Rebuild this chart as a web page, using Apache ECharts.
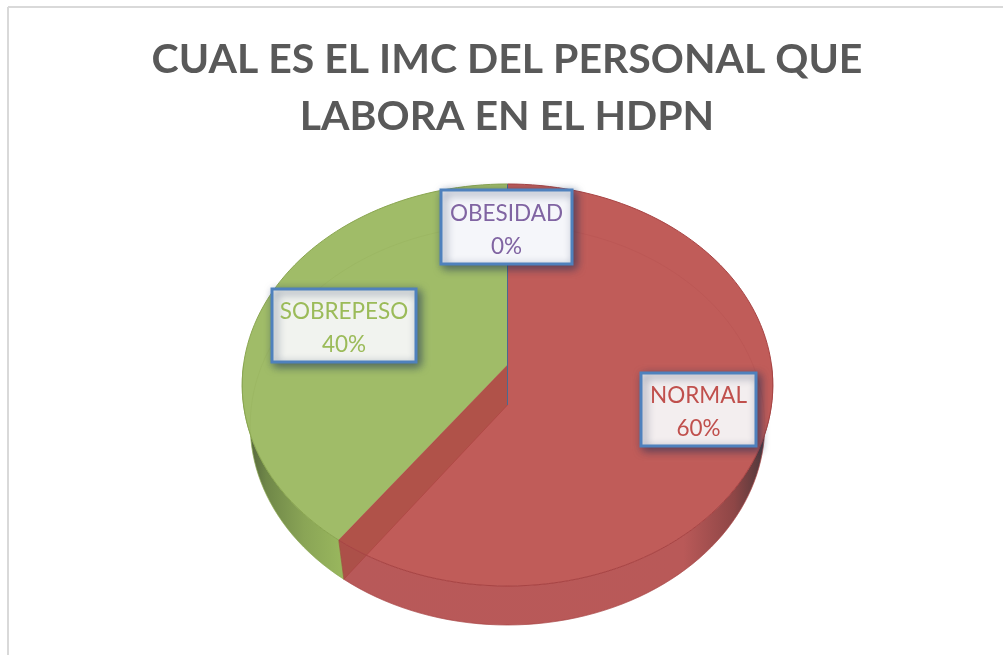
<!DOCTYPE html>
<html>
<head>
<meta charset="utf-8">
<style>html,body{margin:0;padding:0;background:#fff}#c{width:1003px;height:655px}</style>
<script src="https://cdn.jsdelivr.net/npm/echarts@6/dist/echarts.min.js"></script>
</head>
<body>
<div id="c"></div>
<script>
const categories = ['NORMAL', 'SOBREPESO', 'OBESIDAD'];
const values = [60, 40, 0];
const titleText = 'CUAL ES EL IMC DEL PERSONAL QUE\nLABORA EN EL HDPN';

// Appearance and layout, separate from the data
const faceColors = ['#c05c59', '#a0bc68', '#8064a2'];
const rimColors = ['#a84444', '#8aa650', '#4a6a90'];
const textColors = ['#c0504d', '#9bbb59', '#8064a2'];
const boxFills = ['#f3eeef', '#f1f3ef', '#f5f6fa'];
const labelBoxes = [
  {x: 641, y: 373, w: 115, h: 73},
  {x: 272, y: 289, w: 144, h: 73},
  {x: 441, y: 190, w: 131, h: 74}
];
const sideFills = [
  new echarts.graphic.LinearGradient(345, 0, 768, 0, [
    {offset: 0, color: '#b85959'},
    {offset: 0.8, color: '#b95958'},
    {offset: 0.92, color: '#8e4646'},
    {offset: 0.97, color: '#623c3e'},
    {offset: 1, color: '#3c3a40'}
  ], true),
  new echarts.graphic.LinearGradient(244, 0, 345, 0, [
    {offset: 0, color: '#4e5c3a'},
    {offset: 0.22, color: '#6f8748'},
    {offset: 0.6, color: '#8aa556'},
    {offset: 1, color: '#9ab85e'}
  ], true),
  '#8064a2'
];
// Perspective of the disc: apex y, y scale, x scale
const topDisc = {cy: 365, sy: 162.7, sx: 264};
const baseDisc = {cy: 405, sy: 157.8, sx: 256};
const cx = 507.5, tilt = -0.0995;

function project(d, deg) {
  const r = deg * Math.PI / 180, u = Math.sin(r), v = -Math.cos(r), w = 1 + tilt * v;
  return [cx + d.sx * u / w, (d.cy + d.sy * v) / w];
}
function arc(d, a, b) {
  const pts = [], n = Math.max(1, Math.ceil(Math.abs(b - a) / 2));
  for (let i = 0; i <= n; i++) pts.push(project(d, a + (b - a) * i / n));
  return pts;
}
const total = values.reduce((s, v) => s + v, 0);

function renderItem(params, api) {
  const i = params.dataIndex, val = api.value(0);
  let before = 0;
  for (let k = 0; k < i; k++) before += values[k];
  const a = before / total * 360, b = (before + val) / total * 360;
  const kids = [];
  const apex = [cx, topDisc.cy], apexB = [cx, baseDisc.cy];
  if (val > 0) {
    const va = Math.max(a, 90), vb = Math.min(b, 270);
    if (vb > va) {
      kids.push({type: 'polygon', z2: 1,
        shape: {points: arc(topDisc, va, vb).concat(arc(baseDisc, vb, va))},
        style: {fill: sideFills[i], stroke: rimColors[i], lineWidth: 0.6}});
    }
    kids.push({type: 'polygon', z2: 2,
      shape: {points: [apex].concat(arc(topDisc, a, b))},
      style: {fill: faceColors[i]}});
    kids.push({type: 'polyline', z2: 3,
      shape: {points: arc(baseDisc, a, b)},
      style: {fill: null, stroke: rimColors[i], lineWidth: 1, opacity: 0.2}});
    kids.push({type: 'polyline', z2: 5,
      shape: {points: arc(topDisc, a, b)},
      style: {fill: null, stroke: rimColors[i], lineWidth: 1}});
    if (Math.cos(b * Math.PI / 180) < 0) {
      kids.push({type: 'polygon', z2: 4,
        shape: {points: [apex, project(topDisc, b), project(baseDisc, b), apexB]},
        style: {fill: 'rgba(160,72,58,0.5)', stroke: 'rgba(168,60,60,0.6)', lineWidth: 0.8}});
    }
  } else {
    kids.push({type: 'polyline', z2: 4,
      shape: {points: [project(topDisc, a), apex, apexB]},
      style: {fill: null, stroke: rimColors[i], lineWidth: 1}});
  }
  const box = labelBoxes[i];
  kids.push({type: 'rect', z2: 10,
    shape: {x: box.x, y: box.y, width: box.w, height: box.h},
    style: {fill: boxFills[i], stroke: '#4f81bd', lineWidth: 3,
      shadowBlur: 9, shadowColor: 'rgba(25,45,85,0.6)', shadowOffsetX: 3, shadowOffsetY: 3}});
  kids.push({type: 'text', z2: 11,
    x: box.x + box.w / 2, y: box.y + box.h / 2 + 3,
    style: {text: categories[i] + '\n' + Math.round(val / total * 100) + '%',
      fill: textColors[i], font: '22.5px Lato', lineHeight: 33,
      align: 'center', verticalAlign: 'middle'}});
  return {type: 'group', children: kids};
}

const chart = echarts.init(document.getElementById('c'));
chart.setOption({
  animation: false,
  backgroundColor: '#fff',
  title: {
    text: titleText, left: 502, textAlign: 'center', top: 26,
    textStyle: {fontFamily: 'Lato', fontWeight: 'bold', fontSize: 41, color: '#595959', lineHeight: 57}
  },
  graphic: [
    {type: 'line', shape: {x1: 8, y1: 7, x2: 1003, y2: 7}, style: {stroke: '#d9d9d9', lineWidth: 2}},
    {type: 'line', shape: {x1: 8, y1: 7, x2: 8, y2: 655}, style: {stroke: '#d9d9d9', lineWidth: 2}}
  ],
  series: [{
    type: 'custom',
    coordinateSystem: 'none',
    renderItem: renderItem,
    data: categories.map((c, i) => ({name: c, value: [values[i]]}))
  }]
});
</script>
</body>
</html>
